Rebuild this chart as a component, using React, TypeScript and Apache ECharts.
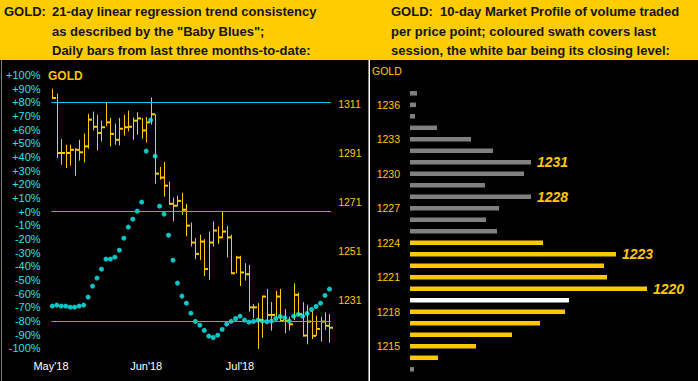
import React, { useEffect, useRef } from "react";
import * as echarts from "echarts";

// ---- Left panel: daily bars (May'18 - Jul'18) ----
const barHigh = [
  1317.2, 1315.2, 1296.7, 1294.4, 1294.4, 1293.0, 1296.4, 1298.9, 1307.0, 1307.9,
  1306.6, 1304.2, 1311.8, 1305.3, 1303.0, 1305.3, 1306.6, 1308.3, 1305.5, 1307.6,
  1305.3, 1305.7, 1313.6, 1306.8, 1285.3, 1287.4, 1279.3, 1272.8, 1273.6, 1274.8,
  1270.3, 1262.6, 1256.3, 1257.7, 1255.9, 1259.0, 1263.1, 1261.1, 1267.4, 1261.3,
  1257.7, 1249.1, 1249.1, 1246.1, 1245.4, 1229.4, 1229.8, 1232.8, 1235.6, 1230.3,
  1234.8, 1235.6, 1227.4, 1224.3, 1237.9, 1234.1, 1230.2, 1229.1, 1226.6, 1224.7,
  1224.3, 1226.1, 1225.4,
];
const barLow = [
  1313.4, 1289.0, 1286.2, 1284.9, 1285.8, 1281.7, 1287.9, 1287.2, 1292.8, 1300.2,
  1292.1, 1295.7, 1301.9, 1293.7, 1294.4, 1294.1, 1298.1, 1299.8, 1296.4, 1298.5,
  1296.8, 1295.3, 1302.6, 1278.5, 1280.1, 1273.2, 1269.9, 1263.1, 1269.2, 1265.8,
  1257.0, 1252.9, 1247.7, 1247.4, 1240.9, 1239.3, 1252.9, 1254.0, 1256.3, 1248.4,
  1242.0, 1242.0, 1236.8, 1239.0, 1226.3, 1223.7, 1211.1, 1215.7, 1222.3, 1218.6,
  1224.3, 1222.3, 1217.5, 1218.6, 1223.0, 1224.7, 1216.2, 1213.0, 1215.1, 1216.5,
  1214.1, 1218.9, 1213.7,
];
const barClose = [
  1313.4, 1291.0, 1291.0, 1291.0, 1292.3, 1292.3, 1291.3, 1293.7, 1304.6, 1301.7,
  1299.2, 1301.5, 1303.5, 1298.8, 1296.4, 1300.9, 1301.5, 1301.7, 1304.2, 1305.1,
  1300.2, 1303.5, 1306.8, 1282.6, 1281.0, 1277.7, 1270.3, 1269.5, 1271.5, 1267.9,
  1261.4, 1254.5, 1249.9, 1254.9, 1243.7, 1254.5, 1259.4, 1256.6, 1259.0, 1256.6,
  1242.0, 1248.4, 1242.3, 1241.6, 1228.1, 1228.1, 1223.0, 1232.5, 1225.0, 1225.0,
  1232.5, 1222.6, 1222.6, 1221.2, 1233.2, 1225.3, 1216.6, 1222.3, 1216.5, 1219.3,
  1222.3, 1220.6, 1219.8,
];
// "Baby Blues" 21-day linear regression trend consistency (%)
const babyBlues = [
  -69.1, -68.4, -69.1, -69.1, -69.9, -69.9, -69.1, -68.4, -62.5, -54.5,
  -48.6, -42.1, -34.7, -34.7, -33.3, -28.2, -19.4, -11.3, -5.5, 0.4,
  7.0, 44.3, 67.0, 40.6, 4.0, -1.8, -17.2, -35.5, -52.3, -61.8,
  -67.0, -74.3, -80.3, -83.1, -86.9, -91.1, -92.1, -90.4, -86.2, -82.3,
  -80.3, -78.2, -76.5, -79.4, -80.9, -80.3, -79.4, -80.1, -80.6, -80.1,
  -78.2, -76.7, -77.7, -80.1, -76.5, -75.2, -76.5, -74.5, -71.6, -69.4,
  -67.0, -61.3, -56.7,
];
const priceTickLabels = [1211, 1231, 1251, 1271, 1291, 1311];
const monthLabels = ["May'18", "Jun'18", "Jul'18"];
const monthLabelAt = [-0.3, 21, 42];
const trendLevels = [80, 0, -80];

// ---- Right panel: 10-day market profile ----
const profilePrices = [
  1213, 1214, 1215, 1216, 1217, 1218, 1219, 1220, 1221, 1222, 1223, 1224, 1225,
  1226, 1227, 1228, 1229, 1230, 1231, 1232, 1233, 1234, 1235, 1236, 1237,
];
const profileVolumes = [
  4, 28, 66, 102, 130, 155, 159, 237, 197, 194, 206, 133, 87,
  76, 89, 121, 75, 114, 121, 83, 61, 27, 5, 6, 7,
];
const lastSessionLow = 1214;
const lastSessionHigh = 1224;
const lastClose = 1219;
const labeledPrices = [1231, 1228, 1223, 1220];

const GOLD = "#FFC800";
const CYAN_LABEL = "#22E2F2";
const CYAN_LINE = "#10C4F4";
const CYAN_DOT = "#10F4F4";
const FONT = "'Liberation Sans', Arial, sans-serif";

export default function App() {
  const ref = useRef<HTMLDivElement>(null);
  useEffect(() => {
    if (!ref.current) return;
    const chart = echarts.init(ref.current, undefined, { renderer: "svg" });

    const ohlc = barHigh.map((h, i) => [i, h, barLow[i], barClose[i]]);
    const dots = babyBlues.map((v, i) => [i, v]);

    const profileData = profilePrices.map((p, i) => {
      let color = "#808080";
      if (p >= lastSessionLow && p <= lastSessionHigh) color = GOLD;
      if (p === lastClose) color = "#FFFFFF";
      const item: any = { value: profileVolumes[i], itemStyle: { color } };
      if (labeledPrices.includes(p)) {
        item.label = {
          show: true,
          position: "right",
          distance: 6,
          formatter: String(p),
          color: GOLD,
          fontSize: 14,
          fontWeight: "bold",
          fontStyle: "italic",
          fontFamily: FONT,
        };
      }
      return item;
    });

    const headerText = (text: string, x: number, y: number) => ({
      type: "text",
      x,
      y,
      silent: true,
      style: {
        text,
        fill: "#141414",
        fontSize: 13,
        fontWeight: "bold",
        fontFamily: FONT,
        align: "left",
        verticalAlign: "middle",
      },
    });

    const option: any = {
      animation: false,
      backgroundColor: "#000000",
      textStyle: { fontFamily: FONT },
      grid: [
        { left: 45.6, top: 75, width: 290.55, height: 273.3, containLabel: false },
        { left: 410, top: 87.55, width: 288, height: 287.5, containLabel: false },
      ],
      xAxis: [
        {
          type: "value",
          gridIndex: 0,
          min: -1.5,
          max: 63.5,
          axisLine: { show: false },
          axisTick: { show: false },
          splitLine: { show: false },
          axisLabel: {
            customValues: monthLabelAt,
            formatter: (v: number) => {
              const k = monthLabelAt.findIndex((m) => Math.abs(m - v) < 0.01);
              return k >= 0 ? monthLabels[k] : "";
            },
            color: "#FFFFFF",
            fontSize: 11,
            margin: 12,
          },
        },
        {
          type: "value",
          gridIndex: 1,
          min: 0,
          max: 288,
          show: false,
        },
      ],
      yAxis: [
        {
          type: "value",
          gridIndex: 0,
          position: "left",
          min: -100,
          max: 100,
          interval: 10,
          axisLine: { show: false },
          axisTick: { show: false },
          splitLine: { show: false },
          axisLabel: {
            formatter: (v: number) => (v >= 0 ? `+${v}%` : `${v}%`),
            color: CYAN_LABEL,
            fontSize: 11,
            margin: 5,
          },
        },
        {
          type: "value",
          gridIndex: 0,
          position: "right",
          min: 1211.4,
          max: 1322.8,
          axisLine: { show: false },
          axisTick: { show: false },
          splitLine: { show: false },
          axisLabel: {
            customValues: priceTickLabels,
            formatter: (v: number) => String(Math.round(v)),
            color: GOLD,
            fontSize: 10.5,
            margin: 2,
          },
        },
        {
          type: "category",
          gridIndex: 1,
          data: profilePrices.map(String),
          axisLine: { show: false },
          axisTick: { show: false },
          splitLine: { show: false },
          axisLabel: {
            interval: (_i: number, v: string) => Number(v) % 3 === 0,
            color: GOLD,
            fontSize: 10.5,
            margin: 10,
          },
        },
      ],
      series: [
        {
          type: "scatter",
          xAxisIndex: 0,
          yAxisIndex: 0,
          data: dots,
          symbol: "circle",
          symbolSize: 5,
          itemStyle: { color: CYAN_DOT },
          z: 3,
          markLine: {
            silent: true,
            symbol: "none",
            label: { show: false },
            lineStyle: { color: CYAN_LINE, width: 1, type: "solid" },
            data: trendLevels.map((lv) => [
              { coord: [-0.2, lv] },
              { coord: [62.3, lv] },
            ]),
          },
        },
        {
          type: "custom",
          xAxisIndex: 0,
          yAxisIndex: 1,
          data: ohlc,
          encode: { x: 0, y: [1, 2, 3] },
          clip: false,
          z: 2,
          renderItem: (_params: any, api: any) => {
            const i = api.value(0);
            const pH = api.coord([i, api.value(1)]);
            const pL = api.coord([i, api.value(2)]);
            const pC = api.coord([i, api.value(3)]);
            const px = Math.round(pH[0]) + 0.5;
            return {
              type: "group",
              children: [
                {
                  type: "line",
                  shape: { x1: px, y1: pH[1], x2: px, y2: pL[1] },
                  style: { stroke: GOLD, lineWidth: 1 },
                },
                {
                  type: "line",
                  shape: { x1: px - 0.5, y1: pC[1], x2: px + 3.5, y2: pC[1] },
                  style: { stroke: GOLD, lineWidth: 2 },
                },
              ],
            };
          },
        },
        {
          type: "bar",
          xAxisIndex: 1,
          yAxisIndex: 2,
          data: profileData,
          barWidth: 4.5,
          label: { show: false },
        },
      ],
      graphic: [
        { type: "rect", shape: { x: 0, y: 0, width: 698, height: 60 }, style: { fill: "#FFCC00" }, silent: true },
        { type: "rect", shape: { x: 1, y: 60, width: 1, height: 321 }, style: { fill: "#808080" }, silent: true },
        { type: "rect", shape: { x: 368.5, y: 60, width: 1.5, height: 321 }, style: { fill: "#FFFFFF" }, silent: true },
        headerText("GOLD:", 4, 11),
        headerText("21-day linear regression trend consistency", 52, 11),
        headerText('as described by the "Baby Blues";', 52, 31),
        headerText("Daily bars from last three months-to-date:", 52, 50),
        headerText("GOLD:  10-day Market Profile of volume traded", 391, 11),
        headerText("per price point; coloured swath covers last", 391, 31),
        headerText("session, the white bar being its closing level:", 391, 50),
        {
          type: "text",
          x: 48,
          y: 76,
          silent: true,
          style: {
            text: "GOLD",
            fill: "#FFC000",
            fontSize: 12,
            fontWeight: "bold",
            fontFamily: FONT,
            align: "left",
            verticalAlign: "middle",
          },
        },
        {
          type: "text",
          x: 372,
          y: 71,
          silent: true,
          style: {
            text: "GOLD",
            fill: GOLD,
            fontSize: 10.5,
            fontFamily: FONT,
            align: "left",
            verticalAlign: "middle",
          },
        },
      ],
    };

    chart.setOption(option);
    return () => chart.dispose();
  }, []);

  return (
    <div
      ref={ref}
      style={{ position: "fixed", left: 0, top: 0, width: 698, height: 381 }}
    />
  );
}
